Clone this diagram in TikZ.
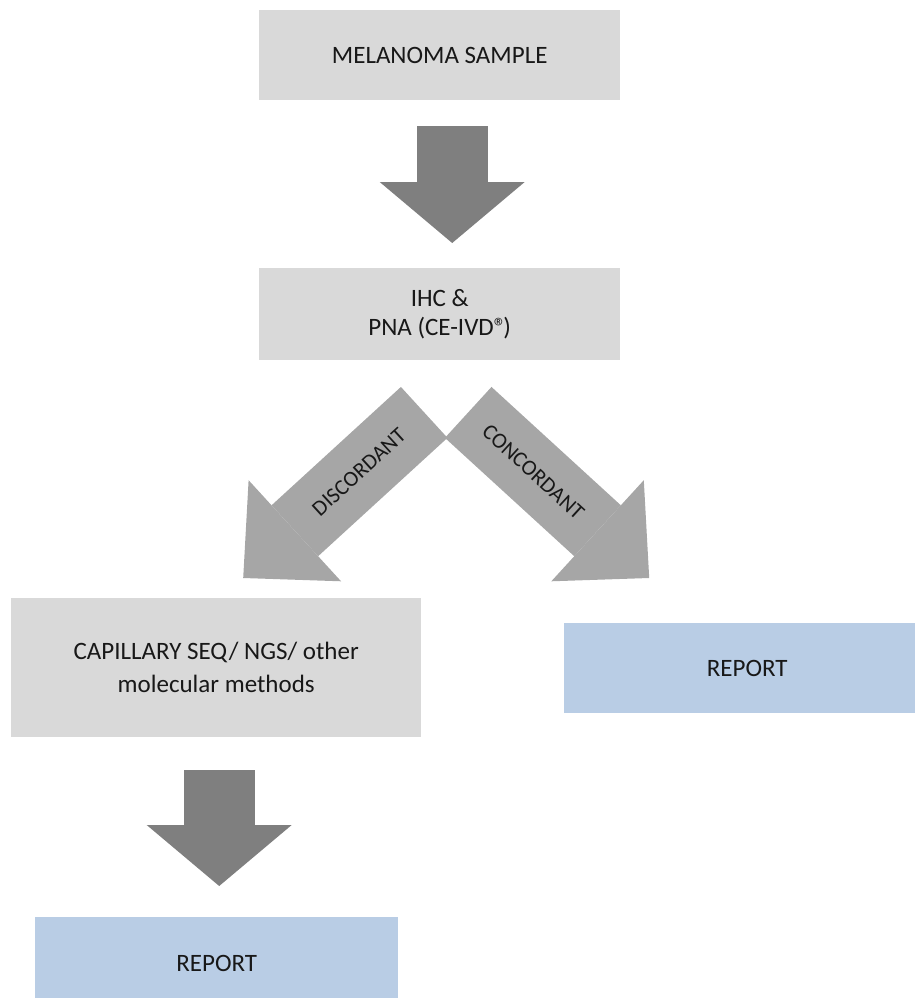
\documentclass[tikz,border=0pt]{standalone}
\usepackage{fontspec}
\setmainfont{Carlito}
\usepackage{xcolor}
\usepackage{tikz}
\usetikzlibrary{arrows.meta,positioning}
\definecolor{boxgray}{HTML}{D9D9D9}
\definecolor{reportblue}{HTML}{B9CDE5}
\definecolor{arrowdark}{HTML}{7F7F7F}
\definecolor{arrowlight}{HTML}{A6A6A6}
\definecolor{ink}{HTML}{181818}

\begin{document}
\begin{tikzpicture}[
    x=1pt, y=-1pt,
    box/.style={fill=boxgray, text=ink, inner sep=0pt, align=center, anchor=north west, font=\fontsize{25}{29}\selectfont},
    report/.style={box, fill=reportblue},
    downarr/.style={line width=71pt, draw=arrowdark, -{Triangle[length=61pt,width=145pt,line width=0pt]}},
    splitarr/.style={line width=69pt, draw=arrowlight, -{Triangle[length=70pt,width=137pt,line width=0pt]}},
    tag/.style={sloped, text=ink, font=\fontsize{22}{24}\selectfont}
  ]
  \useasboundingbox (0,0) rectangle (915,998);

  \node[box, minimum width=361pt, minimum height=90pt] (sample) at (259,10) {MELANOMA SAMPLE};
  \node[box, minimum width=361pt, minimum height=92pt] (ihc) at (259,268) {IHC \&\\PNA (CE-IVD®\kern-3pt)};
  \node[box, minimum width=410pt, minimum height=139pt, font=\fontsize{25}{33}\selectfont] (capillary) at (11,598) {CAPILLARY SEQ/ NGS/ other\\molecular methods};
  \node[report, minimum width=366pt, minimum height=90pt] (reportright) at (564,623) {REPORT};
  \node[report, minimum width=363pt, minimum height=92pt] (reportbottom) at (35,917) {REPORT};

  \draw[downarr] ([xshift=12.5pt,yshift=-26pt]sample.south) -- ([xshift=12.5pt,yshift=25pt]ihc.north);
  \draw[splitarr] ([xshift=-15.5pt,yshift=-52pt]ihc.south) -- node[pos=0.36, tag]{DISCORDANT} ([xshift=27pt,yshift=20pt]capillary.north);
  \draw[splitarr] ([xshift=28.5pt,yshift=-52pt]ihc.south) -- node[pos=0.36, tag]{CONCORDANT} ([xshift=-98pt,yshift=45pt]reportright.north);
  \draw[downarr] ([xshift=3pt,yshift=-33pt]capillary.south) -- ([xshift=2.5pt,yshift=31pt]reportbottom.north);
\end{tikzpicture}
\end{document}
